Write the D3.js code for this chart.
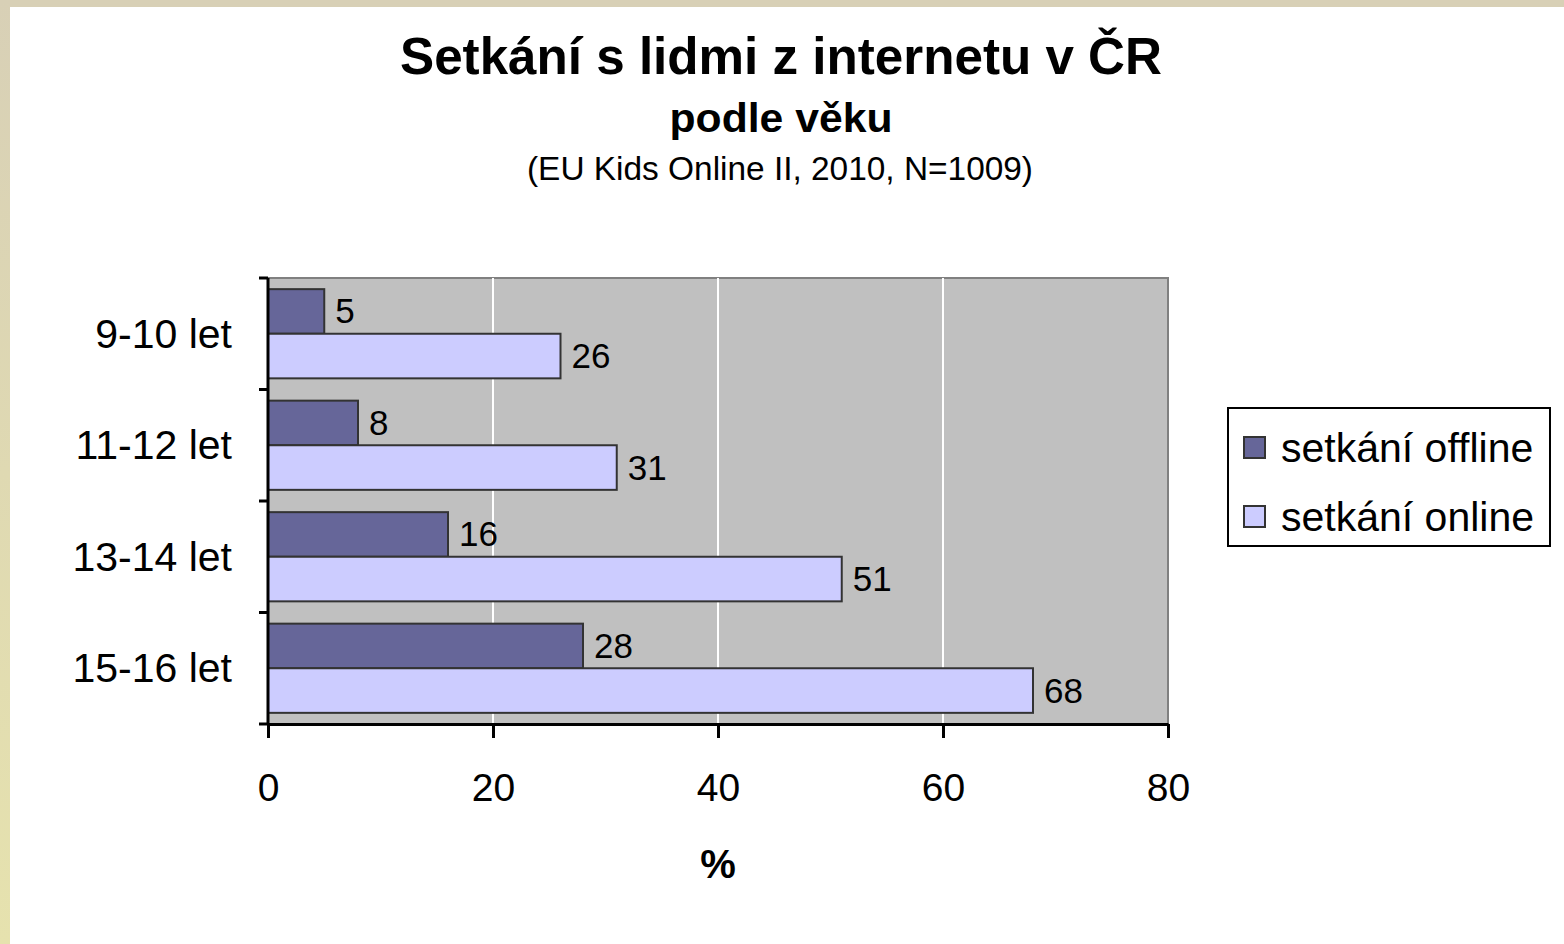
<!DOCTYPE html>
<html>
<head>
<meta charset="utf-8">
<script src="https://cdn.jsdelivr.net/npm/d3@7"></script>
<style>
  body { margin: 0; background: #fff; }
  svg { display: block; font-family: "Liberation Sans", Arial, sans-serif; }
</style>
</head>
<body>
<div id="chart"></div>
<script>
// data
const categories = ["9-10 let", "11-12 let", "13-14 let", "15-16 let"];
const offline = [5, 8, 16, 28];
const online = [26, 31, 51, 68];
const seriesNames = ["setkání offline", "setkání online"];
const xTicks = [0, 20, 40, 60, 80];

const width = 1564, height = 944;
const colors = ["#666699", "#ccccff"];

const svg = d3.select("#chart").append("svg")
  .attr("width", width)
  .attr("height", height);

// beige frame (top + left)
const grad = svg.append("defs").append("linearGradient")
  .attr("id", "frame").attr("x1", 0).attr("y1", 0).attr("x2", 0).attr("y2", 1);
grad.append("stop").attr("offset", "0%").attr("stop-color", "#d8d0b6");
grad.append("stop").attr("offset", "100%").attr("stop-color", "#e6e2ae");
svg.append("rect").attr("x", 0).attr("y", 0).attr("width", width).attr("height", 7).attr("fill", "#d8d0b6");
svg.append("rect").attr("x", 0).attr("y", 0).attr("width", 10).attr("height", height).attr("fill", "url(#frame)");

// titles
svg.append("text").attr("x", 781).attr("y", 74).attr("text-anchor", "middle")
  .attr("textLength", 762).attr("lengthAdjust", "spacingAndGlyphs")
  .style("font-size", "52px").style("font-weight", "bold").text("Setkání s lidmi z internetu v ČR");
svg.append("text").attr("x", 781).attr("y", 132).attr("text-anchor", "middle")
  .attr("textLength", 223).attr("lengthAdjust", "spacingAndGlyphs")
  .style("font-size", "40px").style("font-weight", "bold").text("podle věku");
svg.append("text").attr("x", 780).attr("y", 180).attr("text-anchor", "middle")
  .attr("textLength", 506).attr("lengthAdjust", "spacingAndGlyphs")
  .style("font-size", "33px").text("(EU Kids Online II, 2010, N=1009)");

const m = { left: 268, top: 278, right: 1168, bottom: 724 };

const x = d3.scaleLinear().domain([0, 80]).range([m.left, m.right]);
const y = d3.scaleBand().domain(categories).range([m.top, m.bottom]).paddingInner(0.2).paddingOuter(0.1);
const ySub = d3.scaleBand().domain([0, 1]).range([0, y.bandwidth()]);

// plot background
svg.append("rect")
  .attr("x", m.left).attr("y", m.top)
  .attr("width", m.right - m.left).attr("height", m.bottom - m.top)
  .attr("fill", "#c0c0c0")
  .attr("stroke", "#808080").attr("stroke-width", 2);

// gridlines
svg.append("g").selectAll("line")
  .data(xTicks.slice(1, -1))
  .join("line")
  .attr("x1", d => x(d)).attr("x2", d => x(d))
  .attr("y1", m.top).attr("y2", m.bottom)
  .attr("stroke", "#fff").attr("stroke-width", 2);

// bars
const groups = svg.append("g").selectAll("g")
  .data(categories)
  .join("g")
  .attr("transform", d => `translate(0,${y(d)})`);

[offline, online].forEach((vals, s) => {
  groups.append("rect")
    .attr("x", x(0))
    .attr("y", ySub(s))
    .attr("width", (d, i) => x(vals[i]) - x(0))
    .attr("height", ySub.bandwidth())
    .attr("fill", colors[s])
    .attr("stroke", "#333").attr("stroke-width", 2);
  groups.append("text")
    .attr("x", (d, i) => x(vals[i]) + 11)
    .attr("y", ySub(s) + ySub.bandwidth() / 2 + 12)
    .style("font-size", "35px")
    .text((d, i) => vals[i]);
});

// y axis: line + ticks at band boundaries
const yBounds = d3.range(categories.length + 1).map(i => m.top + i * (m.bottom - m.top) / categories.length);
svg.append("line").attr("x1", m.left).attr("x2", m.left).attr("y1", m.top).attr("y2", m.bottom)
  .attr("stroke", "#000").attr("stroke-width", 3);
svg.append("g").selectAll("line").data(yBounds).join("line")
  .attr("x1", m.left - 9).attr("x2", m.left).attr("y1", d => d).attr("y2", d => d)
  .attr("stroke", "#000").attr("stroke-width", 3);
svg.append("g").selectAll("text").data(categories).join("text")
  .attr("x", 232).attr("y", d => y(d) + y.bandwidth() / 2 + 14)
  .attr("text-anchor", "end")
  .style("font-size", "41px")
  .text(d => d);

// x axis
const xAxis = svg.append("g")
  .attr("transform", `translate(0,${m.bottom})`)
  .call(d3.axisBottom(x).tickValues(xTicks).tickSize(14).tickSizeOuter(0).tickPadding(35));
xAxis.select(".domain").attr("stroke", "#000").attr("stroke-width", 3);
xAxis.selectAll(".tick line").attr("stroke", "#000").attr("stroke-width", 3);
xAxis.selectAll(".tick text").attr("fill", "#000").style("font-size", "39px")
  .style("font-family", "'Liberation Sans', Arial, sans-serif");

svg.append("text").attr("x", 718).attr("y", 878).attr("text-anchor", "middle")
  .style("font-size", "40px").style("font-weight", "bold").text("%");

// legend
const lg = svg.append("g").attr("transform", "translate(1228,408)");
lg.append("rect").attr("width", 322).attr("height", 138)
  .attr("fill", "#fff").attr("stroke", "#000").attr("stroke-width", 2);
seriesNames.forEach((name, i) => {
  const yy = 40 + i * 69;
  lg.append("rect").attr("x", 16).attr("y", yy - 11).attr("width", 21).attr("height", 21)
    .attr("fill", colors[i]).attr("stroke", "#333").attr("stroke-width", 2);
  lg.append("text").attr("x", 53).attr("y", yy + 14)
    .style("font-size", "41px").text(name);
});
</script>
</body>
</html>
